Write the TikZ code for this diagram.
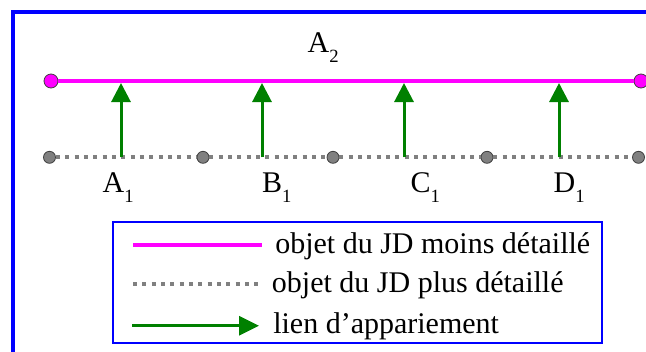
\documentclass[tikz,border=0pt]{standalone}
\usepackage{fontspec}
\setmainfont{Liberation Serif}
\usetikzlibrary{arrows.meta}
\definecolor{lienvert}{RGB}{0,128,0}
\definecolor{grisjd}{RGB}{128,128,128}
\definecolor{cadrebleu}{RGB}{0,0,255}
\definecolor{rosejd}{RGB}{255,0,255}
\newcommand{\etiq}[2]{#1\raisebox{-7.5pt}{\fontsize{14}{16}\selectfont #2}}

\begin{document}
\begin{tikzpicture}[x=0.75pt,y=-0.75pt,
  every node/.style={font=\fontsize{22.5}{27}\selectfont},
  moins/.style={rosejd,line width=3pt},
  plus/.style={grisjd,line width=3pt,dash pattern=on 3pt off 4pt},
  lien/.style={lienvert,line width=2.25pt,-{Triangle[length=14.25pt,width=14.25pt]}},
  ptmoins/.style={circle,draw=black!75,fill=rosejd,inner sep=0pt,minimum size=10.5pt,line width=0.6pt},
  ptplus/.style={circle,draw=black!75,fill=grisjd,inner sep=0pt,minimum size=9pt,line width=0.6pt}]
\useasboundingbox (0,0) rectangle (646,351);
\draw[cadrebleu,line width=3pt] (13,400) -- (13,11.5) -- (700,11.5);

% objet moins detaille
\node[ptmoins] (m1) at (51,81) {};
\node[ptmoins] (m2) at (641,81) {};
\draw[moins] (m1) -- (m2);
\node[anchor=base west] (la2) at (303,52) {\etiq{A}{2}};

% objets plus detailles
\node[ptplus] (g1) at (49.5,157.3) {};
\node[ptplus] (g2) at (203,157.3) {};
\node[ptplus] (g3) at (333,157.3) {};
\node[ptplus] (g4) at (487,157.3) {};
\node[ptplus] (g5) at (638.5,157.3) {};
\foreach \i/\j in {g1/g2,g2/g3,g3/g4,g4/g5}
  \draw[plus] (\i) -- (\j);

% liens d'appariement
\foreach \n/\x in {a/121,b/262,c/404,d/559}{
  \coordinate (p\n) at (\x,157.3);
  \coordinate (q\n) at (\x,83);
  \draw[lien] (p\n) -- (q\n);
}
\node[anchor=base west] (la1) at (98,192) {\etiq{A}{1}};
\node[anchor=base west] (lb1) at (257.5,192) {\etiq{B}{1}};
\node[anchor=base west] (lc1) at (406,192) {\etiq{C}{1}};
\node[anchor=base west] (ld1) at (549,192) {\etiq{D}{1}};

% legende
\draw[cadrebleu,line width=1.5pt] (113.3,222.3) rectangle (601.7,342.7);
\draw[moins] (133,245) -- (262,245);
\draw[plus] (133,284) -- (262,284);
\draw[lien,-{Triangle[length=15pt,width=14.25pt]}] (132,325.7) -- (259,325.7);
\node[anchor=base west,inner sep=0pt] (t1) at (275,253) {objet du JD moins détaillé};
\node[anchor=base west,inner sep=0pt] (t2) at (271.7,292) {objet du JD plus détaillé};
\node[anchor=base west,inner sep=0pt] (t3) at (273,333) {lien d’appariement};
\end{tikzpicture}
\end{document}
